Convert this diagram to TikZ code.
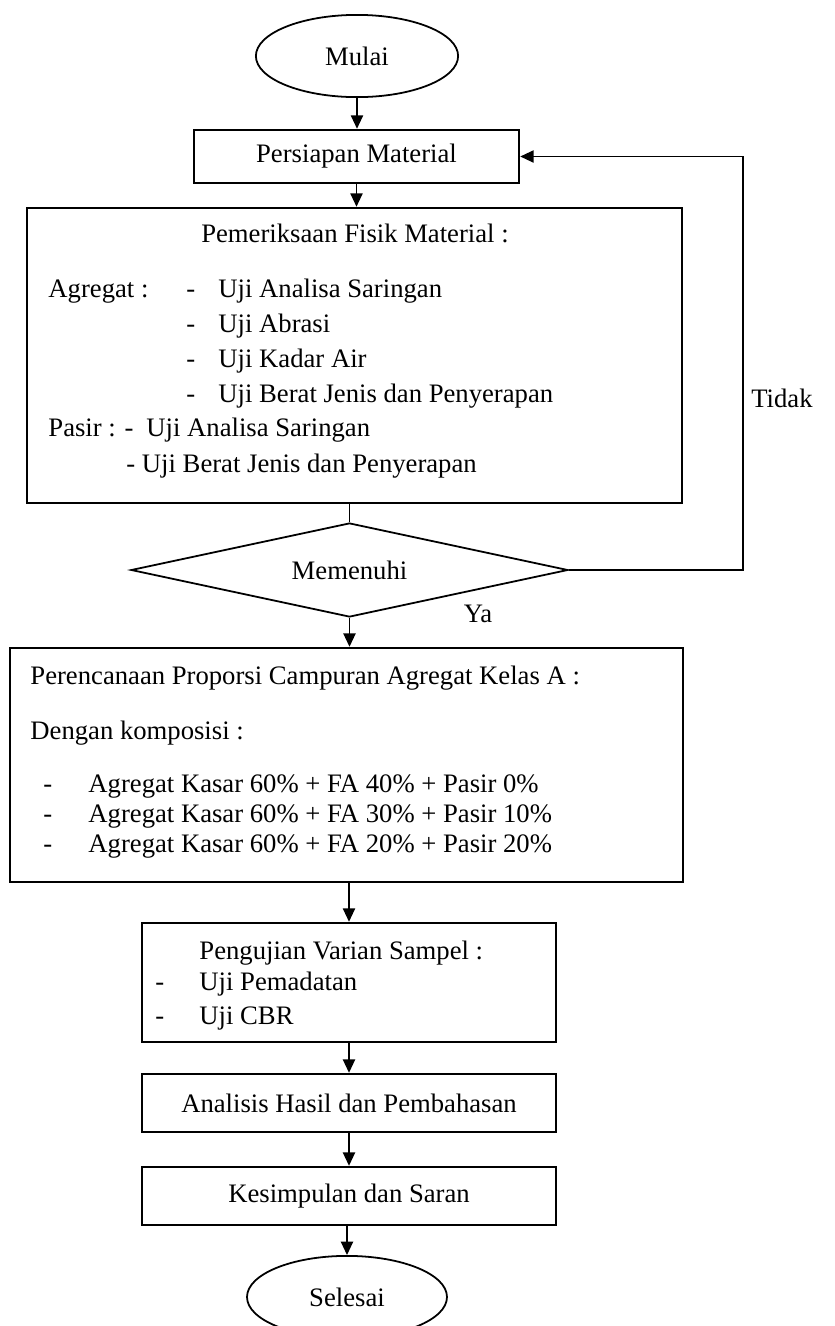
\documentclass[tikz,border=0pt]{standalone}
\usepackage{fontspec}
\setmainfont{Liberation Serif}
\usetikzlibrary{shapes.geometric, arrows.meta}

\begin{document}
\begin{tikzpicture}[x=0.45pt, y=-0.45pt,
		font=\fontsize{12}{14}\selectfont,
		kotak/.style={rectangle, draw, line width=1.1pt, inner sep=0pt},
		oval/.style={ellipse, draw, line width=0.8pt, inner sep=0pt, minimum width=91pt, minimum height=37pt},
		keputusan/.style={diamond, draw, line width=0.8pt, inner sep=0pt, aspect=4.6, minimum width=196.6pt, minimum height=42.3pt},
		teks/.style={anchor=base west, inner sep=0pt},
		panah/.style={-{Triangle[width=5.5pt,length=6pt]}, line width=0.6pt}]
	\useasboundingbox (0,0) rectangle (835,1326);

	% awal dan persiapan
	\node[oval] (mulai) at (357,56) {Mulai};
	\node[kotak, minimum width=146.3pt, minimum height=23.9pt] (persiapan) at (356.5,156.5) {Persiapan Material};

	% pemeriksaan fisik material
	\node[kotak, minimum width=294.8pt, minimum height=132.8pt] (periksa) at (354.5,355.5) {};
	\node[anchor=base, inner sep=0pt] (judulperiksa) at (355,242) {Pemeriksaan Fisik Material :};
	\node[teks] (agregat) at (48,297) {Agregat :};
	\foreach \uji [count=\k] in {Uji Analisa Saringan, Uji Abrasi, Uji Kadar Air, Uji Berat Jenis dan Penyerapan} {
		\node[teks] (astrip\k) at (186,262+35*\k) {-};
		\node[teks] (aitem\k) at (218,262+35*\k) {\uji};
	}
	\node[teks] (pasir) at (48,436) {Pasir : -};
	\node[teks] (pitem1) at (146,436) {Uji Analisa Saringan};
	\node[teks] (pitem2) at (126,472) {- Uji Berat Jenis dan Penyerapan};

	% keputusan
	\node[keputusan] (memenuhi) at (349.5,570) {Memenuhi};
	\node[inner sep=0pt] (tidak) at (782,398) {Tidak};
	\node[inner sep=0pt] (ya) at (478,614) {Ya};

	% perencanaan proporsi campuran
	\node[kotak, minimum width=302.9pt, minimum height=105.3pt] (rencana) at (346.5,765) {};
	\node[teks] (judulrencana) at (30,684) {Perencanaan Proporsi Campuran Agregat Kelas A :};
	\node[teks] (komposisi) at (30,739) {Dengan komposisi :};
	\foreach \fa/\ps [count=\k] in {40/0, 30/10, 20/20} {
		\node[teks] (rstrip\k) at (43,762+30*\k) {-};
		\node[teks] (ritem\k) at (88,762+30*\k) {Agregat Kasar 60\% + FA \fa\% + Pasir \ps\%};
	}

	% pengujian sampel
	\node[kotak, minimum width=186.3pt, minimum height=53.6pt] (uji) at (349,982.5) {};
	\node[teks] (juduluji) at (199,959) {Pengujian Varian Sampel :};
	\foreach \uji [count=\k] in {Uji Pemadatan, Uji CBR} {
		\node[teks] (ustrip\k) at (155,956+34*\k) {-};
		\node[teks] (uitem\k) at (199,956+34*\k) {\uji};
	}

	% analisis, kesimpulan, selesai
	\node[kotak, minimum width=186.3pt, minimum height=26.1pt] (analisis) at (349,1103) {Analisis Hasil dan Pembahasan};
	\node[kotak, minimum width=186.3pt, minimum height=26.1pt] (simpulan) at (349,1196) {Kesimpulan dan Saran};
	\node[oval, minimum width=90pt] (selesai) at (347,1297) {Selesai};

	% penghubung
	\coordinate (balik) at (743,570);
	\draw[panah] (mulai.south) -- (mulai.south |- persiapan.north);
	\draw[panah] (persiapan.south) -- (persiapan.south |- periksa.north);
	\draw[line width=0.6pt] (periksa.south -| memenuhi.north) -- (memenuhi.north);
	\draw[panah] (memenuhi.south) -- (memenuhi.south |- rencana.north);
	\draw[panah] (rencana.south -| uji.north) -- (uji.north);
	\draw[panah] (uji.south) -- (analisis.north);
	\draw[panah] (analisis.south) -- (simpulan.north);
	\draw[panah] (simpulan.south -| selesai.north) -- (selesai.north);
	\draw[panah] (memenuhi.east) -- (balik) -- (balik |- persiapan.east) -- (persiapan.east);
\end{tikzpicture}
\end{document}
